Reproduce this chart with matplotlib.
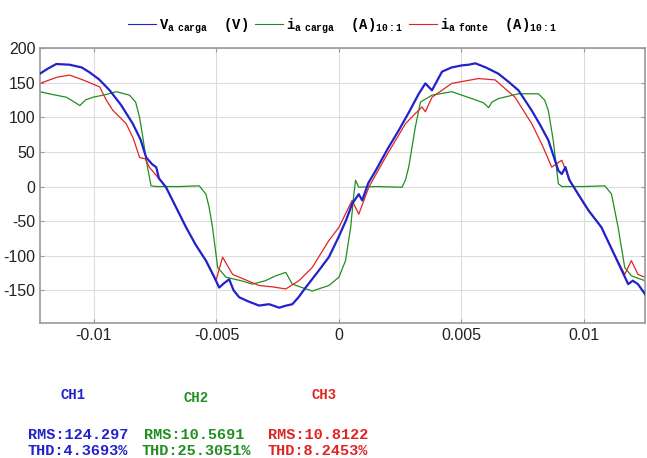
import matplotlib.pyplot as plt

plt.rcParams['mathtext.fontset'] = 'custom'
plt.rcParams['mathtext.rm'] = 'Liberation Mono:bold'
plt.rcParams['mathtext.it'] = 'Liberation Mono:bold'
plt.rcParams['mathtext.bf'] = 'Liberation Mono:bold'
plt.rcParams['axes.unicode_minus'] = False

# V a carga (V)
t_v = [-0.01221, -0.01190, -0.01154, -0.01100, -0.01050, -0.01018, -0.00980, -0.00936,
       -0.00890, -0.00842, -0.00810, -0.00787, -0.00762, -0.00746, -0.00735, -0.00706,
       -0.00665, -0.00624, -0.00585, -0.00543, -0.00510, -0.00489, -0.00470, -0.00448,
       -0.00430, -0.00407, -0.00370, -0.00326, -0.00285, -0.00244, -0.00215, -0.00190,
       -0.00165, -0.00136, -0.00090, -0.00041, 0.00000, 0.00030, 0.00054, 0.00081,
       0.00095, 0.00120, 0.00150, 0.00200, 0.00244, 0.00290, 0.00326, 0.00353,
       0.00380, 0.00421, 0.00460, 0.00502, 0.00530, 0.00557, 0.00600, 0.00651,
       0.00690, 0.00733, 0.00787, 0.00820, 0.00855, 0.00896, 0.00910, 0.00925,
       0.00940, 0.00977, 0.01020, 0.01072, 0.01120, 0.01160, 0.01181, 0.01200,
       0.01221, 0.01249]
v_v = [163, 170, 177, 176, 172, 165, 155, 139,
       118, 91, 68, 42, 32, 28, 12, -1,
       -30, -59, -84, -107, -130, -146, -140, -134,
       -150, -160, -166, -172, -170, -175, -172, -170,
       -160, -146, -125, -102, -72, -48, -25, -11,
       -20, 5, 23, 55, 81, 110, 134, 149,
       139, 166, 172, 175, 176, 178, 172, 163,
       152, 139, 110, 90, 67, 23, 18, 28,
       10, -11, -35, -59, -95, -125, -141, -136,
       -141, -155]

# i a carga (A) 10:1
t_c = [-0.01221, -0.01170, -0.01113, -0.01080, -0.01058, -0.01035, -0.01004, -0.00950,
       -0.00909, -0.00855, -0.00830, -0.00814, -0.00800, -0.00787, -0.00767, -0.00746,
       -0.00650, -0.00570, -0.00543, -0.00530, -0.00516, -0.00495, -0.00461, -0.00400,
       -0.00353, -0.00300, -0.00258, -0.00217, -0.00200, -0.00190, -0.00150, -0.00109,
       -0.00041, 0.00000, 0.00027, 0.00048, 0.00061, 0.00068, 0.00081, 0.00150,
       0.00258, 0.00272, 0.00285, 0.00312, 0.00333, 0.00380, 0.00461, 0.00543,
       0.00590, 0.00611, 0.00625, 0.00651, 0.00733, 0.00814, 0.00840, 0.00855,
       0.00875, 0.00896, 0.00910, 0.01000, 0.01086, 0.01113, 0.01140, 0.01167,
       0.01194, 0.01249]
i_c = [137, 133, 129, 122, 117, 125, 129, 133,
       137, 132, 122, 100, 70, 38, 1, 0,
       0, 1, -11, -30, -59, -117, -131, -136,
       -141, -136, -129, -124, -135, -141, -146, -151,
       -143, -131, -107, -59, -11, 9, -1, 0,
       -1, 10, 28, 86, 122, 132, 137, 127,
       121, 114, 122, 127, 134, 134, 125, 110,
       67, 4, 0, 0, 1, -11, -59, -117,
       -129, -136]

# i a fonte (A) 10:1
t_f = [-0.01221, -0.01150, -0.01100, -0.01045, -0.00977, -0.00950, -0.00923, -0.00869,
       -0.00840, -0.00814, -0.00790, -0.00774, -0.00755, -0.00706, -0.00665, -0.00624,
       -0.00585, -0.00543, -0.00502, -0.00475, -0.00434, -0.00380, -0.00326, -0.00270,
       -0.00217, -0.00163, -0.00109, -0.00041, 0.00000, 0.00054, 0.00081, 0.00122,
       0.00190, 0.00272, 0.00339, 0.00353, 0.00380, 0.00461, 0.00570, 0.00638,
       0.00719, 0.00787, 0.00830, 0.00869, 0.00910, 0.00930, 0.00950, 0.01000,
       0.01072, 0.01120, 0.01167, 0.01194, 0.01221, 0.01249]
i_f = [149, 158, 161, 154, 144, 125, 110, 91,
       70, 42, 40, 28, 20, -1, -30, -59,
       -84, -107, -136, -102, -127, -135, -143, -145,
       -148, -136, -117, -78, -59, -20, -40, -1,
       42, 91, 115, 108, 129, 149, 156, 154,
       129, 91, 60, 28, 38, 20, 4, -25,
       -59, -95, -127, -107, -127, -131]

xticks = [-0.01, -0.005, 0, 0.005, 0.01]
xticklabels = ['-0.01', '-0.005', '0', '0.005', '0.01']
yticks = [-150, -100, -50, 0, 50, 100, 150, 200]

channels = ['CH1', 'CH2', 'CH3']
rms = ['124.297', '10.5691', '10.8122']
thd = ['4.3693%', '25.3051%', '8.2453%']

c_blue = '#2222cc'
c_green = '#1f8f1f'
c_red = '#e02424'

fig = plt.figure(figsize=(6.47, 4.58), dpi=100)
ax = fig.add_axes([0.062, 0.295, 0.935, 0.600])

ax.plot(t_v, v_v, color=c_blue, lw=1.6, label=r'$\mathrm{V}_{\mathrm{a\ \ carga}}$  (V)', zorder=3)
ax.plot(t_c, i_c, color=c_green, lw=0.9, label=r'$\mathrm{i}_{\mathrm{a\ \ carga}}$  (A)$_{\mathrm{10:1}}$', zorder=2)
ax.plot(t_f, i_f, color=c_red, lw=0.9, label=r'$\mathrm{i}_{\mathrm{a\ \ fonte}}$  (A)$_{\mathrm{10:1}}$', zorder=2)

ax.set_xlim(-0.0122, 0.0125)
ax.set_ylim(-197, 200)
ax.set_xticks(xticks)
ax.set_xticklabels(xticklabels)
ax.set_yticks(yticks)
ax.grid(True, color='#dddddd', lw=0.8)
for s in ax.spines.values():
    s.set_color('#999999')
    s.set_linewidth(1.2)
ax.tick_params(direction='in', length=3, color='#999999', labelsize=11.5,
               labelcolor='#222222', right=True, top=True)
for lab in ax.get_xticklabels() + ax.get_yticklabels():
    lab.set_family('Liberation Sans')

leg = ax.legend(loc='lower center', bbox_to_anchor=(0.5, 1.0), ncol=3, frameon=False,
                handlelength=2.0, handletextpad=0.2, columnspacing=0.5,
                prop={'family': 'Liberation Mono', 'weight': 'bold', 'size': 10})
for h in leg.legend_handles:
    h.set_linewidth(0.8)

cols = [c_blue, c_green, c_red]
ch_x = [73, 196, 324]
ch_y = [395, 398, 395]
txt_x = [28, 144, 268]
for i in range(3):
    fig.text(ch_x[i] / 647, 1 - ch_y[i] / 458, channels[i], color=cols[i],
             family='Liberation Mono', weight='bold', fontsize=10, ha='center', va='center')
    fig.text(txt_x[i] / 647, 1 - 435 / 458, 'RMS:' + rms[i], color=cols[i],
             family='Liberation Mono', weight='bold', fontsize=11, ha='left', va='center')
    fig.text((txt_x[i] - 2 if i == 1 else txt_x[i]) / 647, 1 - 451 / 458, 'THD:' + thd[i], color=cols[i],
             family='Liberation Mono', weight='bold', fontsize=11, ha='left', va='center')

fig.savefig('out.png', dpi=100)
